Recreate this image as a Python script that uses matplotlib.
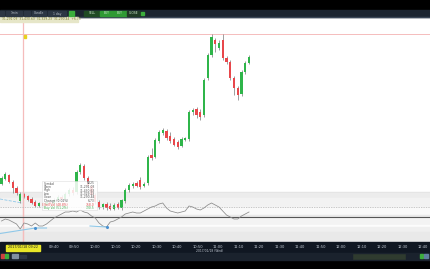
from matplotlib import pyplot as plt
from matplotlib.patches import Rectangle

W, H = 430, 269

# ---- candle data (one bar per period) ----
opens = [31118, 31128, 31136, 31122, 31110, 31084, 31098, 31094, 31088, 31082,
         31074, 31080, 31076, 31082, 31078, 31086, 31092, 31088, 31098, 31106,
         31102, 31142, 31154, 31130, 31114, 31096, 31082, 31072, 31078, 31074,
         31068, 31078, 31070, 31084, 31106, 31114, 31120, 31126, 31114, 31120,
         31176, 31172, 31204, 31220, 31224, 31214, 31208, 31202, 31194, 31206,
         31208, 31262, 31268, 31262, 31256, 31330, 31376, 31406, 31390, 31406,
         31370, 31362, 31330, 31310, 31298, 31342, 31360]
highs = [31134, 31142, 31138, 31126, 31114, 31102, 31100, 31096, 31092, 31086,
         31082, 31082, 31086, 31088, 31090, 31096, 31096, 31102, 31110, 31112,
         31146, 31160, 31158, 31134, 31118, 31100, 31086, 31080, 31082, 31080,
         31080, 31082, 31088, 31110, 31120, 31122, 31124, 31132, 31122, 31176,
         31190, 31210, 31226, 31230, 31228, 31222, 31212, 31206, 31212, 31212,
         31266, 31270, 31272, 31268, 31330, 31380, 31418, 31410, 31406, 31418,
         31374, 31366, 31334, 31314, 31346, 31364, 31376]
lows = [31116, 31126, 31120, 31100, 31096, 31080, 31090, 31084, 31078, 31072,
        31072, 31070, 31072, 31076, 31076, 31084, 31086, 31086, 31094, 31096,
        31098, 31138, 31126, 31110, 31092, 31078, 31068, 31068, 31066, 31066,
        31066, 31068, 31066, 31080, 31102, 31110, 31112, 31108, 31112, 31116,
        31166, 31170, 31200, 31216, 31206, 31200, 31194, 31188, 31192, 31204,
        31204, 31256, 31250, 31246, 31252, 31326, 31372, 31382, 31386, 31366,
        31358, 31326, 31296, 31286, 31294, 31338, 31358]
closes = [31130, 31138, 31122, 31110, 31100, 31098, 31092, 31086, 31080, 31074,
          31080, 31074, 31082, 31078, 31086, 31092, 31088, 31098, 31106, 31100,
          31142, 31156, 31130, 31114, 31096, 31082, 31072, 31078, 31070, 31068,
          31076, 31070, 31086, 31106, 31116, 31118, 31114, 31112, 31118, 31172,
          31170, 31206, 31222, 31226, 31210, 31204, 31196, 31192, 31208, 31210,
          31262, 31266, 31256, 31252, 31326, 31376, 31412, 31398, 31400, 31370,
          31362, 31330, 31310, 31296, 31342, 31360, 31372]

# ---- oscillator (lower pane, 0-100) ----
osc = [42, 46, 44, 40, 36, 26, 38, 36, 32, 38,
       32, 32, 36, 42, 48, 52, 56, 60, 60, 62,
       60, 64, 60, 58, 52, 48, 38, 32, 30, 40,
       42, 46, 50, 56, 58, 60, 58, 58, 62, 66,
       70, 72, 76, 78, 68, 62, 60, 58, 60, 62,
       72, 70, 66, 64, 68, 74, 78, 74, 70, 62,
       54, 50, 46, 46, 52, 56, 60]

# first two slots sit under the yellow cursor label
time_labels = ['09:40', '09:50', '10:00', '10:10', '10:20',
               '10:30', '10:40', '10:50', '11:00', '11:10', '11:20', '11:30',
               '11:40', '11:50', '12:00', '12:10', '12:20', '12:30', '12:40']
cursor_label = '2017/01/18 09:22'
tip_labels = ['Symbol', 'Open', 'High', 'Low', 'Close', 'Change (0.02%)',
              'Sell Vol (48.8%)', 'Buy Vol (51.2%)']
tip_values = ['N225', '31,291.03', '31,430.63', '31,329.23', '31,290.44',
              '6.73', '758.0', '730.5']
tip_colors = ['#555555'] * 6 + ['#e04848', '#3aa84a']

GREEN, RED = '#2fb54a', '#e8474b'
PINK = '#f5bcbc'


def rect(x0, y0, x1, y1, **kw):
    """rectangle in screen pixels, y from the top"""
    fig.patches.append(Rectangle((x0 / W, 1 - y1 / H), (x1 - x0) / W, (y1 - y0) / H,
                                 transform=fig.transFigure, **kw))


def text(x, y, s, **kw):
    fig.text(x / W, 1 - y / H, s, va='center', **kw)


def box(x0, y0, x1, y1):
    return [x0 / W, 1 - y1 / H, (x1 - x0) / W, (y1 - y0) / H]


fig = plt.figure(figsize=(4.3, 2.69), dpi=100)
fig.patch.set_facecolor('black')

# chart background + indicator shading
rect(0, 17, 430, 243, color='white', zorder=-2)
for y0, y1, c in [(192, 193, '#e4e4e4'), (193, 198, '#ececec'), (198, 207, '#f2f2f2'),
                  (207, 215, '#f9f9f9'), (215, 218, '#e9e9e9'), (218, 225, '#f3f3f3'),
                  (225, 227, '#fcfcfc'), (227, 232, '#efefef'), (232, 242, '#e9e9e9')]:
    rect(0, y0, 430, y1, color=c, zorder=-1)

xmin = -0.4
xmax = xmin + 430 / 3.75

ax = fig.add_axes(box(0, 18, 430, 243))
ax.set_facecolor('none')
ax.set_xlim(xmin, xmax)
ax.set_ylim(31000, 31450)
ax.axis('off')

idx = range(len(opens))
for i in idx:
    col = GREEN if closes[i] >= opens[i] else RED
    ax.vlines(i, lows[i], highs[i], color='#777777', lw=0.5, zorder=2)
    ax.bar(i, abs(closes[i] - opens[i]) or 1, bottom=min(opens[i], closes[i]),
           width=0.62, color=col, lw=0, zorder=3)

# crosshair cursor
ax.axhline(max(highs), color=PINK, lw=0.7, zorder=1)
ax.axvline(5.73, color=PINK, lw=0.9, zorder=1)
ax.plot([xmin, 5.5], [31088, 31080], color='#8fc8e8', lw=0.6, ls='--', zorder=1)

# lower indicator pane
low = fig.add_axes(box(0, 192, 430, 242))
low.set_facecolor('none')
low.set_xlim(xmin, xmax)
low.set_ylim(0, 100)
low.axis('off')
low.axhline(70, color='#b4b4b4', lw=0.5, ls=(0, (2, 1.5)))
low.axhline(50, color='#555555', lw=0.8)
low.plot(list(idx), osc, color='#8a8a8a', lw=0.55)
low.plot([xmin, 9, 12], [17, 28, 28], color='#8fc8e8', lw=0.8)
low.plot([23.6, 28], [32, 30], color='#8fc8e8', lw=0.8)
low.plot([9, 28], [28, 30], 'o', color='#4a90d0', ms=1.2, lw=0)
low.axvline(5.73, color=PINK, lw=0.9, zorder=0)

# tooltip
rect(42, 181, 97, 210, facecolor='white', alpha=0.85, edgecolor='#d8d8d8', lw=0.4, zorder=5)
for k, (lab, val, c) in enumerate(zip(tip_labels, tip_values, tip_colors)):
    y = 183.5 + k * 3.5
    text(44, y, lab, fontsize=2.2, color=c, zorder=6)
    text(95, y, val, fontsize=2.2, color=c, ha='right', zorder=6)

# cursor marker
rect(23.5, 34.5, 26, 37.5, color='#e6d21e', zorder=4)

# top toolbar
rect(0, 10, 430, 17, color='#1c2530', zorder=1)
rect(0, 16.5, 430, 17, color='#3a4656', zorder=1)
for x0, x1, s in [(0, 4, ''), (6, 22, '1min'), (24, 30, ''), (32, 46, 'Candle'),
                  (48, 66, '1 day')]:
    rect(x0, 11, x1, 16, color='#2c3644', zorder=2)
    if s:
        text((x0 + x1) / 2, 13.5, s, fontsize=2.2, color='#b8c0c8', ha='center', zorder=3)
rect(69, 11, 74, 16, color='#3cae3c', zorder=2)
for x0, x1, c, s in [(84, 100, '#1f4a24', 'SELL'), (100, 113, '#2f9a34', 'BUY'),
                     (113, 127, '#2f9a34', 'BUY'), (127, 140, '#1f3a24', 'CLOSE')]:
    rect(x0, 11, x1, 16, color=c, zorder=2)
    text((x0 + x1) / 2, 13.5, s, fontsize=2.2, color='#d0e8d0', ha='center', zorder=3)
rect(141, 12, 144, 15, color='#3cae3c', zorder=2)

# status strip
rect(0, 17, 78, 22, color='#e6e6c8', zorder=1)
text(2, 19.5, '31,291.03  31,430.63  31,329.23  31,290.44  +6.73', fontsize=2.2,
     color='#7a7a30', zorder=2)

# time axis
rect(0, 242, 430, 253, color='#101722', zorder=1)
for k, lab in enumerate(time_labels):
    text(54 + 20.5 * k, 247, lab, fontsize=2.6, color='#c4ccd6', ha='center', zorder=2)
rect(6, 244.5, 40, 250.5, color='#e8e628', zorder=3)
text(23, 247.5, cursor_label, fontsize=2.4, color='#222222', ha='center', zorder=4)
text(210, 250.5, '2017/01/18 (Wed)', fontsize=2.2, color='#c4ccd6', ha='center', zorder=2)

# bottom toolbar
rect(0, 253, 430, 260, color='#1a222d', zorder=1)
rect(1, 254, 4, 258, color='#d04040', zorder=2)
rect(5, 254, 8, 258, color='#3cae3c', zorder=2)
rect(12, 254, 18, 258, color='#8090a0', zorder=2)
rect(20, 254.5, 26, 257.5, color='#2c3644', zorder=2)
rect(353, 254, 405, 258.5, color='#2f3b2f', edgecolor='#5a6a5a', lw=0.4, zorder=2)
rect(420, 254, 423, 258, color='#3cae3c', zorder=2)
rect(424, 254, 428, 258, color='#6080a0', zorder=2)

fig.savefig('out.png', dpi=100, facecolor='black')
